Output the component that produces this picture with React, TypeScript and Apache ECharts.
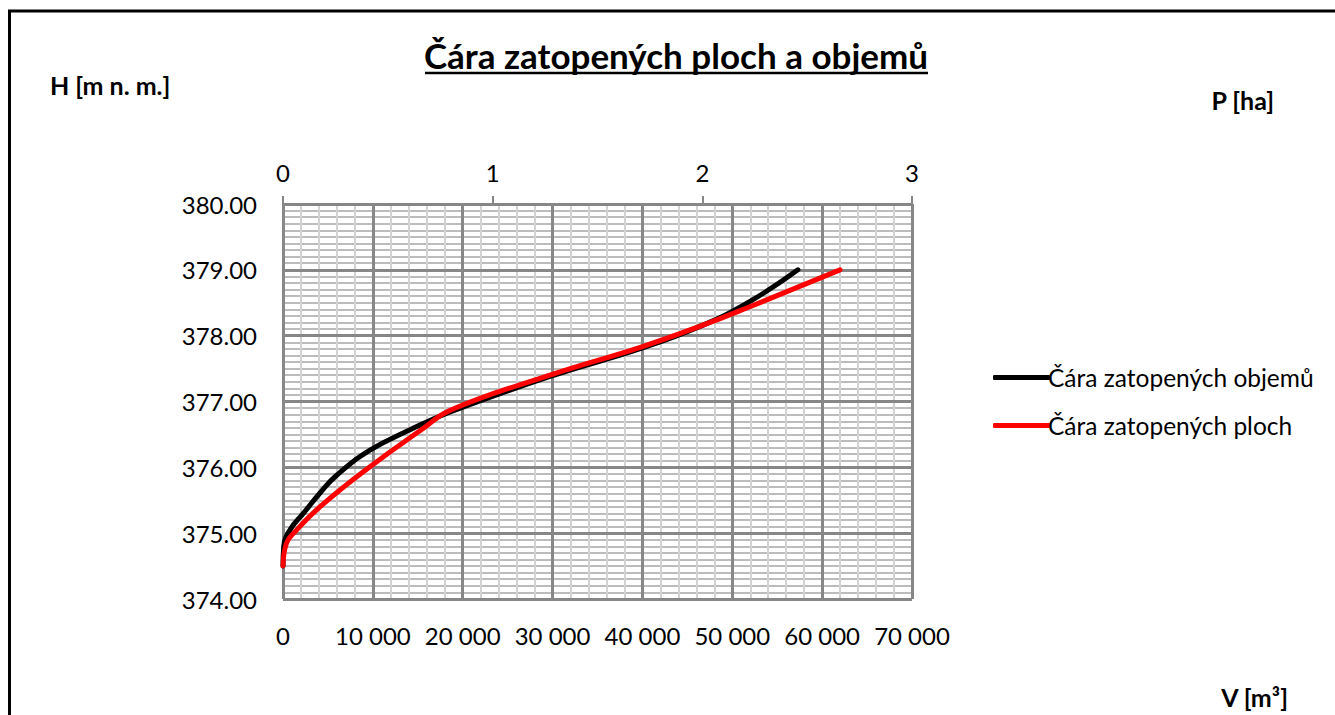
import React, { useEffect, useRef } from "react";
import * as echarts from "echarts";

// Čára zatopených objemů: H [m n. m.] vs V [m3]
const heightsV = [374.5, 374.8, 375.05, 375.3, 375.61, 375.88, 376.26, 376.57, 376.84, 377.38, 377.81, 378.16, 378.52, 379.0];
const volumes = [0, 80, 779, 2260, 4118, 5973, 9682, 14134, 18600, 29714, 39917, 46740, 51970, 57300];

// Čára zatopených ploch: H [m n. m.] vs P [ha]
const heightsP = [374.5, 374.85, 375.02, 375.4, 376.01, 376.57, 376.87, 377.4, 377.83, 378.16, 378.44, 379.0];
const areas = [0, 0.017, 0.057, 0.176, 0.415, 0.66, 0.8, 1.273, 1.711, 2.003, 2.227, 2.657];

const seriesNames = ["Čára zatopených objemů", "Čára zatopených ploch"];
const title = "Čára zatopených ploch a objemů";
const yName = "H [m n. m.]";
const pName = "P [ha]";
const vName = "V [m³]";

const FONT = "Lato";
const fmtThousands = (v: number) => String(v).replace(/\B(?=(\d{3})+(?!\d))/g, " ");

export default function App() {
  const ref = useRef<HTMLDivElement>(null);
  useEffect(() => {
    if (!ref.current) return;
    const chart = echarts.init(ref.current, null, { renderer: "svg" });
    const major = { show: true, lineStyle: { color: "#878787", width: 3 } };
    const minorV = { show: true, lineStyle: { color: "#d2d2d2", width: 2 } };
    const minorH = { show: true, lineStyle: { color: "#bcbcbc", width: 2 } };
    const labelStyle = { color: "#000", fontFamily: FONT, fontSize: 24 };
    chart.setOption({
      animation: false,
      backgroundColor: "#fff",
      grid: { left: 283, top: 204, width: 629, height: 395, containLabel: false },
      legend: {
        orient: "vertical",
        left: 988,
        top: 360,
        itemWidth: 57,
        itemHeight: 5,
        itemGap: 23,
        data: seriesNames,
        icon: "roundRect",
        textStyle: { color: "#000", fontFamily: FONT, fontSize: 24.5, lineHeight: 24, padding: [0, 0, 0, -7] },
      },
      xAxis: [
        {
          type: "value",
          position: "bottom",
          min: 0,
          max: 70000,
          interval: 10000,
          z: 1,
          axisLine: { show: false },
          axisTick: { show: false },
          axisLabel: { ...labelStyle, margin: 24, formatter: (v: number) => fmtThousands(v) },
          splitLine: { show: false },
          minorTick: { show: false, splitNumber: 5 },
          minorSplitLine: minorV,
        },
        {
          type: "value",
          position: "top",
          min: 0,
          max: 3,
          interval: 1,
          z: 1,
          axisLine: { show: false },
          axisTick: { show: true, inside: false, length: 8, lineStyle: { color: "#878787", width: 2 } },
          axisLabel: { ...labelStyle, margin: 20 },
          splitLine: { show: false },
        },
        {
          type: "value",
          position: "bottom",
          min: 0,
          max: 70000,
          interval: 10000,
          z: 3,
          axisLine: { show: false },
          axisTick: { show: false },
          axisLabel: { show: false },
          splitLine: major,
        },
      ],
      yAxis: [
        {
          type: "value",
          position: "left",
          min: 374,
          max: 380,
          interval: 1,
          z: 1,
          axisLine: { show: false },
          axisTick: { show: false },
          axisLabel: { ...labelStyle, margin: 26, formatter: (v: number) => v.toFixed(2) },
          splitLine: { show: false },
          minorTick: { show: false, splitNumber: 10 },
          minorSplitLine: minorH,
        },
        {
          type: "value",
          position: "left",
          min: 374,
          max: 380,
          interval: 1,
          z: 3,
          axisLine: { show: false },
          axisTick: { show: false },
          axisLabel: { show: false },
          splitLine: major,
        },
      ],
      series: [
        {
          name: seriesNames[0],
          type: "line",
          xAxisIndex: 0,
          yAxisIndex: 0,
          z: 10,
          smooth: 0.45,
          symbol: "none",
          color: "#000",
          lineStyle: { color: "#000", width: 5, cap: "round" },
          data: volumes.map((v, i) => [v, heightsV[i]]),
        },
        {
          name: seriesNames[1],
          type: "line",
          xAxisIndex: 1,
          yAxisIndex: 0,
          z: 11,
          smooth: 0.45,
          symbol: "none",
          color: "#ff0000",
          lineStyle: { color: "#ff0000", width: 5, cap: "round" },
          data: areas.map((p, i) => [p, heightsP[i]]),
        },
      ],
      graphic: [
        {
          type: "rect",
          shape: { x: 9.5, y: 11, width: 3000, height: 3000 },
          style: { fill: "none", stroke: "#000", lineWidth: 3 },
          silent: true,
        },
        {
          type: "text",
          x: 676,
          y: 55,
          style: {
            text: title,
            fontFamily: FONT,
            fontWeight: "bold",
            fontSize: 35,
            fill: "#000",
            align: "center",
            verticalAlign: "middle",
          },
        },
        {
          type: "line",
          shape: { x1: 425, y1: 73, x2: 928, y2: 73 },
          style: { stroke: "#000", lineWidth: 2.5 },
        },
        {
          type: "text",
          x: 50,
          y: 85,
          style: { text: yName, fontFamily: FONT, fontWeight: "bold", fontSize: 25, fill: "#000", align: "left", verticalAlign: "middle" },
        },
        {
          type: "text",
          x: 1274,
          y: 100,
          style: { text: pName, fontFamily: FONT, fontWeight: "bold", fontSize: 25, fill: "#000", align: "right", verticalAlign: "middle" },
        },
        {
          type: "text",
          x: 1288,
          y: 697,
          style: { text: vName, fontFamily: FONT, fontWeight: "bold", fontSize: 25, fill: "#000", align: "right", verticalAlign: "middle" },
        },
      ],
    });
    return () => chart.dispose();
  }, []);
  return <div ref={ref} style={{ position: "fixed", left: 0, top: 0, width: 1335, height: 715 }} />;
}
